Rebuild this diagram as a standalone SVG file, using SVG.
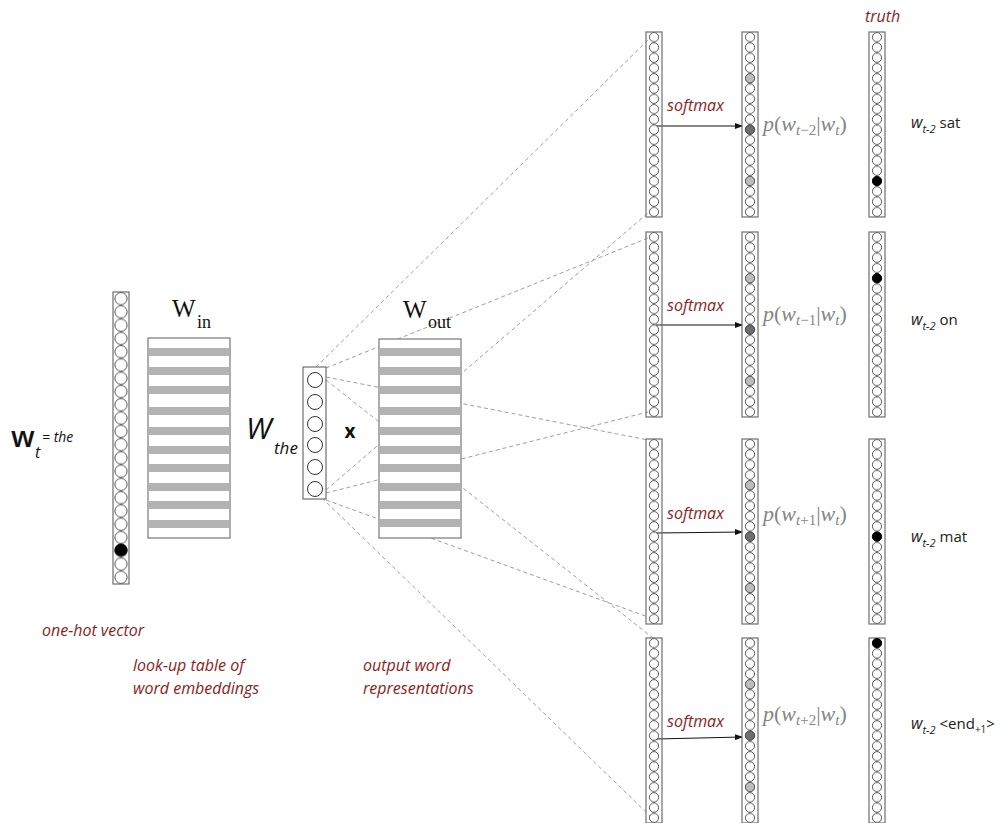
<svg xmlns="http://www.w3.org/2000/svg" xmlns:xlink="http://www.w3.org/1999/xlink" width="1006" height="823" viewBox="0 0 1006 823">
  <style>
    .col { stroke: #6e6e6e; stroke-width: 1.2; }
    .dash { fill: none; stroke: #9e9e9e; stroke-width: 1; stroke-dasharray: 4 3; }
    .arrow { fill: none; stroke: #111; stroke-width: 1; marker-end: url(#head); }
    .matrix { fill: #fff; stroke: #777; stroke-width: 1.2; }
    .band { fill: #b3b3b3; }
    .note { font-family: "Open Sans", "Liberation Sans", sans-serif; font-style: italic; font-size: 16px; fill: #8c1c1c; }
    .serif { font-family: "Liberation Serif", "DejaVu Serif", serif; fill: #111; }
    .prob { font-family: "Liberation Serif", "DejaVu Serif", serif; font-size: 22px; fill: #858585; }
    .prob .i { font-style: italic; }
    .word { font-family: "Open Sans", "Liberation Sans", sans-serif; font-size: 15px; fill: #222; }
    .light { fill: #bdbdbd; stroke: #555; stroke-width: 0.9; }
    .dark { fill: #6f6f6f; stroke: #444; stroke-width: 0.9; }
    .hot { fill: #000; stroke: #000; stroke-width: 0.9; }
  </style>
  <defs>
    <!-- stacked unit cells for the long vectors -->
    <pattern id="cells18" patternUnits="userSpaceOnUse" width="16" height="10.28">
      <circle cx="8" cy="5.14" r="4.6" fill="#fff" stroke="#444" stroke-width="0.9"/>
    </pattern>
    <pattern id="cells22" patternUnits="userSpaceOnUse" width="16" height="13.27">
      <circle cx="8" cy="6.63" r="6.1" fill="#fff" stroke="#444" stroke-width="0.9"/>
    </pattern>
    <marker id="head" markerWidth="8" markerHeight="6" refX="7" refY="3" orient="auto" markerUnits="userSpaceOnUse">
      <path d="M0,0 L8,3 L0,6 z" fill="#111"/>
    </marker>
  </defs>

  <rect width="1006" height="823" fill="#fff"/>

  <!-- dashed fan from the embedding to every context column -->
  <g id="connectors">
    <line class="dash" x1="316" y1="367" x2="655" y2="33"/>
    <line class="dash" x1="326" y1="368" x2="648" y2="238"/>
    <line class="dash" x1="326" y1="377" x2="648" y2="440"/>
    <line class="dash" x1="326" y1="380" x2="653" y2="638"/>
    <line class="dash" x1="326" y1="490" x2="648" y2="213"/>
    <line class="dash" x1="326" y1="493" x2="648" y2="412"/>
    <line class="dash" x1="326" y1="500" x2="648" y2="617"/>
    <line class="dash" x1="322" y1="498" x2="650" y2="816"/>
    <!-- softmax arrows -->
    <line class="arrow" x1="656" y1="126" x2="742" y2="126"/>
    <line class="arrow" x1="656" y1="325" x2="742" y2="325"/>
    <line class="arrow" x1="656" y1="533" x2="742" y2="532"/>
    <line class="arrow" x1="656" y1="739" x2="742" y2="737"/>
  </g>

  <!-- input one-hot vector -->
  <g id="onehot">
    <g transform="translate(113,292)">
      <rect class="col" width="16" height="292" fill="url(#cells22)"/>
    </g>
    <circle class="hot" cx="121" cy="550" r="6.1"/>
    <text x="11" y="447" font-family="Open Sans, Liberation Sans, sans-serif" font-size="29" font-weight="600" fill="#111">w</text>
    <text x="35" y="458" font-family="Open Sans, Liberation Sans, sans-serif" font-size="16" font-style="italic" fill="#111">t</text>
    <text x="42" y="442" font-family="Open Sans, Liberation Sans, sans-serif" font-size="14" font-style="italic" fill="#111">= the</text>
    <text class="note" x="42" y="636">one-hot vector</text>
  </g>

  <!-- input embedding matrix -->
  <g id="w-in">
    <rect class="matrix" x="148" y="338" width="82" height="200"/>
    <rect class="band" x="149" y="348" width="80" height="8"/>
    <rect class="band" x="149" y="367" width="80" height="8"/>
    <rect class="band" x="149" y="386" width="80" height="8"/>
    <rect class="band" x="149" y="407" width="80" height="8"/>
    <rect class="band" x="149" y="427" width="80" height="8"/>
    <rect class="band" x="149" y="446" width="80" height="8"/>
    <rect class="band" x="149" y="464" width="80" height="8"/>
    <rect class="band" x="149" y="483" width="80" height="8"/>
    <rect class="band" x="149" y="501" width="80" height="8"/>
    <rect class="band" x="149" y="520" width="80" height="8"/>
    <text class="serif" x="172" y="317" font-size="25">W</text>
    <text class="serif" x="197" y="328" font-size="18">in</text>
    <text class="note" x="133" y="671">look-up table of</text>
    <text class="note" x="133" y="694">word embeddings</text>
  </g>

  <!-- embedding of the centre word -->
  <g id="w-the">
    <rect class="col" x="303" y="367" width="23" height="132" fill="#fff" stroke="#333"/>
    <g fill="#fff" stroke="#333" stroke-width="1">
      <circle cx="315" cy="380" r="7.5"/>
      <circle cx="315" cy="402" r="7.5"/>
      <circle cx="315" cy="424" r="7.5"/>
      <circle cx="315" cy="445" r="7.5"/>
      <circle cx="315" cy="467" r="7.5"/>
      <circle cx="315" cy="489" r="7.5"/>
    </g>
    <text x="246" y="439" font-family="Open Sans, Liberation Sans, sans-serif" font-size="30" font-style="italic" fill="#111">W</text>
    <text x="274" y="454" font-family="Open Sans, Liberation Sans, sans-serif" font-size="17" font-style="italic" fill="#111">the</text>
    <text x="350" y="438" text-anchor="middle" font-family="Open Sans, Liberation Sans, sans-serif" font-size="19" font-weight="700" fill="#111">x</text>
  </g>

  <!-- output representation matrix -->
  <g id="w-out">
    <rect class="matrix" x="379" y="339" width="82" height="199"/>
    <rect class="band" x="380" y="348" width="80" height="8"/>
    <rect class="band" x="380" y="367" width="80" height="8"/>
    <rect class="band" x="380" y="386" width="80" height="8"/>
    <rect class="band" x="380" y="407" width="80" height="8"/>
    <rect class="band" x="380" y="427" width="80" height="8"/>
    <rect class="band" x="380" y="446" width="80" height="8"/>
    <rect class="band" x="380" y="464" width="80" height="8"/>
    <rect class="band" x="380" y="483" width="80" height="8"/>
    <rect class="band" x="380" y="501" width="80" height="8"/>
    <rect class="band" x="380" y="519" width="80" height="8"/>
    <text class="serif" x="403" y="318" font-size="25">W</text>
    <text class="serif" x="428" y="328" font-size="18">out</text>
    <text class="note" x="363" y="671">output word</text>
    <text class="note" x="363" y="694">representations</text>
  </g>

  <text id="truth-title" class="note" x="865" y="22">truth</text>

  <!-- context position t-2 -->
  <g id="ctx-1">
    <g transform="translate(646,32)"><rect class="col" width="16" height="185" fill="url(#cells18)"/></g>
    <g transform="translate(742,32)"><rect class="col" width="16" height="185" fill="url(#cells18)"/></g>
    <g transform="translate(869,32)"><rect class="col" width="16" height="185" fill="url(#cells18)"/></g>
    <circle class="light" cx="750" cy="78.2" r="4.6"/>
    <circle class="dark" cx="750" cy="129.6" r="4.6"/>
    <circle class="light" cx="750" cy="181" r="4.6"/>
    <circle class="hot" cx="877" cy="181" r="4.6"/>
    <text class="note" x="667" y="111">softmax</text>
    <text class="prob" x="763" y="131"><tspan class="i">p</tspan>(<tspan class="i">w</tspan><tspan class="i" font-size="15" dy="4">t</tspan><tspan font-size="15">−2</tspan><tspan dy="-4">|</tspan><tspan class="i">w</tspan><tspan class="i" font-size="15" dy="4">t</tspan><tspan dy="-4">)</tspan></text>
    <text class="word" x="911" y="128"><tspan font-style="italic" font-size="16">w</tspan><tspan font-style="italic" font-size="11" dy="5">t-2</tspan><tspan dy="-5"> sat</tspan></text>
  </g>

  <!-- context position t-1 -->
  <g id="ctx-2">
    <g transform="translate(646,232)"><rect class="col" width="16" height="185" fill="url(#cells18)"/></g>
    <g transform="translate(742,232)"><rect class="col" width="16" height="185" fill="url(#cells18)"/></g>
    <g transform="translate(869,232)"><rect class="col" width="16" height="185" fill="url(#cells18)"/></g>
    <circle class="light" cx="750" cy="278.2" r="4.6"/>
    <circle class="dark" cx="750" cy="329.6" r="4.6"/>
    <circle class="light" cx="750" cy="381" r="4.6"/>
    <circle class="hot" cx="877" cy="278.2" r="4.6"/>
    <text class="note" x="667" y="311">softmax</text>
    <text class="prob" x="763" y="321"><tspan class="i">p</tspan>(<tspan class="i">w</tspan><tspan class="i" font-size="15" dy="4">t</tspan><tspan font-size="15">−1</tspan><tspan dy="-4">|</tspan><tspan class="i">w</tspan><tspan class="i" font-size="15" dy="4">t</tspan><tspan dy="-4">)</tspan></text>
    <text class="word" x="911" y="325"><tspan font-style="italic" font-size="16">w</tspan><tspan font-style="italic" font-size="11" dy="5">t-2</tspan><tspan dy="-5"> on</tspan></text>
  </g>

  <!-- context position t+1 -->
  <g id="ctx-3">
    <g transform="translate(646,439)"><rect class="col" width="16" height="185" fill="url(#cells18)"/></g>
    <g transform="translate(742,439)"><rect class="col" width="16" height="185" fill="url(#cells18)"/></g>
    <g transform="translate(869,439)"><rect class="col" width="16" height="185" fill="url(#cells18)"/></g>
    <circle class="light" cx="750" cy="485.2" r="4.6"/>
    <circle class="dark" cx="750" cy="536.6" r="4.6"/>
    <circle class="light" cx="750" cy="588" r="4.6"/>
    <circle class="hot" cx="877" cy="536.6" r="4.6"/>
    <text class="note" x="667" y="519">softmax</text>
    <text class="prob" x="763" y="521"><tspan class="i">p</tspan>(<tspan class="i">w</tspan><tspan class="i" font-size="15" dy="4">t</tspan><tspan font-size="15">+1</tspan><tspan dy="-4">|</tspan><tspan class="i">w</tspan><tspan class="i" font-size="15" dy="4">t</tspan><tspan dy="-4">)</tspan></text>
    <text class="word" x="911" y="542"><tspan font-style="italic" font-size="16">w</tspan><tspan font-style="italic" font-size="11" dy="5">t-2</tspan><tspan dy="-5"> mat</tspan></text>
  </g>

  <!-- context position t+2 -->
  <g id="ctx-4">
    <g transform="translate(646,638)"><rect class="col" width="16" height="185" fill="url(#cells18)"/></g>
    <g transform="translate(742,638)"><rect class="col" width="16" height="185" fill="url(#cells18)"/></g>
    <g transform="translate(869,638)"><rect class="col" width="16" height="185" fill="url(#cells18)"/></g>
    <circle class="light" cx="750" cy="684.2" r="4.6"/>
    <circle class="dark" cx="750" cy="735.6" r="4.6"/>
    <circle class="light" cx="750" cy="787" r="4.6"/>
    <circle class="hot" cx="877" cy="643.1" r="4.6"/>
    <text class="note" x="667" y="727">softmax</text>
    <text class="prob" x="763" y="721"><tspan class="i">p</tspan>(<tspan class="i">w</tspan><tspan class="i" font-size="15" dy="4">t</tspan><tspan font-size="15">+2</tspan><tspan dy="-4">|</tspan><tspan class="i">w</tspan><tspan class="i" font-size="15" dy="4">t</tspan><tspan dy="-4">)</tspan></text>
    <text class="word" x="911" y="729"><tspan font-style="italic" font-size="16">w</tspan><tspan font-style="italic" font-size="11" dy="5">t-2</tspan><tspan dy="-5"> &lt;end</tspan><tspan font-size="10" dy="4">+1</tspan><tspan dy="-4">&gt;</tspan></text>
  </g>
</svg>
